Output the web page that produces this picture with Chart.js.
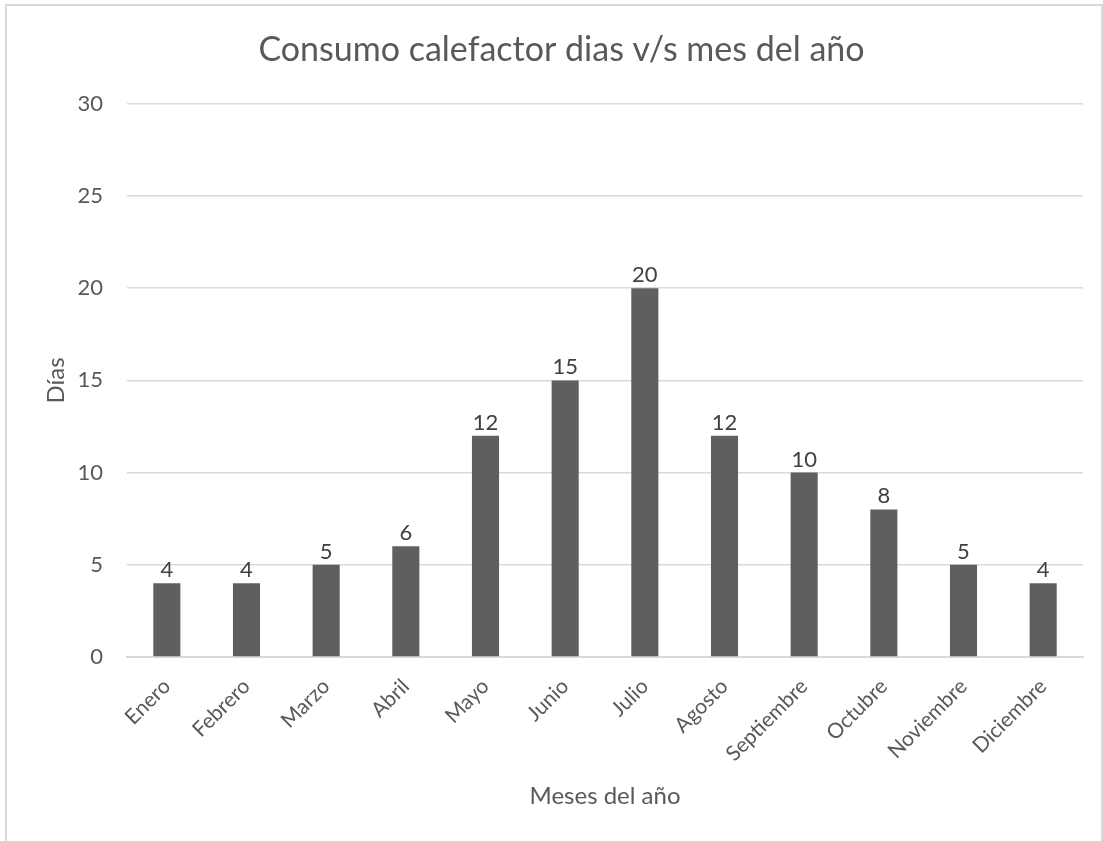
<!DOCTYPE html>
<html>
<head>
<meta charset="utf-8">
<script src="https://cdn.jsdelivr.net/npm/chart.js@4/dist/chart.umd.min.js"></script>
<style>
html,body{margin:0;padding:0;background:#fff;}
#wrap{position:relative;width:1103px;height:841px;}
</style>
</head>
<body>
<div id="wrap"><canvas id="c" width="1103" height="841"></canvas></div>
<script>
const categories = ["Enero","Febrero","Marzo","Abril","Mayo","Junio","Julio","Agosto","Septiembre","Octubre","Noviembre","Diciembre"];
const dias = [4,4,5,6,12,15,20,12,10,8,5,4];
const yTicks = [0,5,10,15,20,25,30];
const titleText = "Consumo calefactor dias v/s mes del año";
const yTitle = "Días";
const xTitle = "Meses del año";

const FONT = "Lato, 'Open Sans', sans-serif";

const borderPlugin = {
  id: 'outerBorder',
  beforeDraw(chart) {
    const ctx = chart.ctx;
    ctx.save();
    ctx.fillStyle = '#fff';
    ctx.fillRect(0, 0, chart.width, chart.height);
    ctx.strokeStyle = '#d9d9d9';
    ctx.lineWidth = 2;
    ctx.strokeRect(6, 5, 1096, 900);
    ctx.restore();
  }
};

const valueLabels = {
  id: 'valueLabels',
  afterDatasetsDraw(chart) {
    const ctx = chart.ctx;
    const meta = chart.getDatasetMeta(0);
    ctx.save();
    ctx.font = "22px " + FONT;
    ctx.fillStyle = '#404040';
    ctx.textAlign = 'center';
    ctx.textBaseline = 'alphabetic';
    meta.data.forEach((bar, i) => {
      ctx.fillText(String(chart.data.datasets[0].data[i]), bar.x, bar.y - 6);
    });
    ctx.restore();
  }
};

new Chart(document.getElementById('c'), {
  type: 'bar',
  data: {
    labels: categories,
    datasets: [{
      data: dias,
      backgroundColor: '#5f5f5f',
      borderWidth: 0,
      barPercentage: 0.34,
      categoryPercentage: 1.0
    }]
  },
  options: {
    responsive: false,
    animation: false,
    devicePixelRatio: 1,
    layout: { padding: { left: 40, right: 20, top: 30, bottom: 29 } },
    plugins: {
      legend: { display: false },
      tooltip: { enabled: false },
      title: {
        display: true,
        text: titleText,
        color: '#595959',
        font: { family: FONT, size: 34, weight: 'normal', lineHeight: 1.2 },
        padding: { top: 0, bottom: 33 }
      }
    },
    scales: {
      x: {
        grid: { display: false, drawTicks: false },
        border: { display: true, color: '#d9d9d9', width: 2 },
        ticks: {
          color: '#595959',
          font: { family: FONT, size: 21 },
          maxRotation: 45,
          minRotation: 45,
          padding: 17,
          autoSkip: false
        },
        title: {
          display: true,
          text: xTitle,
          color: '#595959',
          font: { family: FONT, size: 24, lineHeight: 1.2 },
          padding: { top: 0, bottom: 1 }
        },
        afterFit(s) { s.height = 155; }
      },
      y: {
        min: 0,
        max: 30,
        afterBuildTicks(s) { s.ticks = yTicks.map(v => ({ value: v })); },
        grid: { color: '#d9d9d9', lineWidth: 1.5, drawTicks: false },
        border: { display: false },
        ticks: {
          color: '#595959',
          font: { family: FONT, size: 22 },
          padding: 24
        },
        title: {
          display: true,
          text: yTitle,
          color: '#595959',
          font: { family: FONT, size: 24, lineHeight: 1.2 },
          padding: { top: 2, bottom: 0 }
        },
        afterFit(s) { s.width = 87; }
      }
    }
  },
  plugins: [borderPlugin, valueLabels]
});
</script>
</body>
</html>
